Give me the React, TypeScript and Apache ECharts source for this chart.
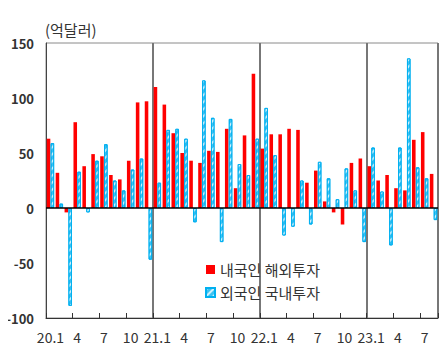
import React, { useEffect, useRef } from "react";
import * as echarts from "echarts";

const categories = [
  "20.1","20.2","20.3","20.4","20.5","20.6","20.7","20.8","20.9","20.10","20.11","20.12",
  "21.1","21.2","21.3","21.4","21.5","21.6","21.7","21.8","21.9","21.10","21.11","21.12",
  "22.1","22.2","22.3","22.4","22.5","22.6","22.7","22.8","22.9","22.10","22.11","22.12",
  "23.1","23.2","23.3","23.4","23.5","23.6","23.7","23.8",
];

const residentsAbroad = [
  63, 32, -4, 78, 38, 49, 47, 30, 26, 43, 96, 97,
  110, 94, 68, 50, 43, 41, 52, 51, 72, 18, 66, 122,
  54, 67, 67, 72, 71, 23, 34, 6, -4, -15, 41, 45,
  38, 25, 30, 18, 16, 62, 69, 31,
];

const foreignersDomestic = [
  59, 4, -89, 33, -4, 43, 58, 25, 16, 35, 45, -47,
  23, 71, 72, 63, -13, 116, 82, -31, 81, 40, 30, 63,
  91, 48, -25, -17, 25, -15, 42, 27, 8, 36, 16, -31,
  55, 15, -34, 55, 136, 37, 27, -11,
];

const seriesNames = ["내국인 해외투자", "외국인 국내투자"];
const unitLabel = "(억달러)";

const FONT = "'Noto Sans CJK KR', 'Noto Sans', sans-serif";

export default function App() {
  const ref = useRef<HTMLDivElement>(null);
  useEffect(() => {
    if (!ref.current) return;
    const chart = echarts.init(ref.current, undefined, { renderer: "svg" });
    chart.setOption({
      animation: false,
      textStyle: { fontFamily: FONT },
      grid: {
        left: 46,
        right: 9,
        top: 43,
        bottom: 44,
        show: true,
        borderColor: "#8a8a8a",
        borderWidth: 1,
      },
      graphic: [
        {
          type: "text",
          left: 45,
          top: 22,
          style: { text: unitLabel, fontSize: 15, fill: "#333", fontFamily: FONT },
        },
      ],
      legend: {
        orient: "vertical",
        left: 200,
        top: 257,
        itemWidth: 9,
        itemHeight: 9,
        itemGap: 8,
        textStyle: { fontSize: 15, color: "#333", fontFamily: FONT },
        data: [
          { name: seriesNames[0], icon: "rect" },
          { name: seriesNames[1], icon: "rect" },
        ],
      },
      xAxis: {
        type: "category",
        data: categories,
        boundaryGap: true,
        axisLine: { onZero: false, lineStyle: { color: "#333", width: 1 } },
        axisTick: {
          show: true,
          inside: true,
          length: 5,
          interval: (i: number) => i % 3 === 0,
          lineStyle: { color: "#333" },
        },
        axisLabel: {
          interval: (i: number) => i % 3 === 0,
          fontSize: 14,
          color: "#333",
          margin: 12,
          formatter: (v: string) => {
            const parts = v.split(".");
            return parts[1] === "1" ? v : parts[1];
          },
        },
        splitLine: {
          show: true,
          interval: (i: number) => i > 0 && i % 12 === 0,
          lineStyle: { color: "#777", width: 2 },
        },
      },
      yAxis: {
        type: "value",
        min: -100,
        max: 150,
        interval: 50,
        axisLine: { show: true, lineStyle: { color: "#444" } },
        axisTick: { show: false },
        splitLine: { show: false },
        axisLabel: { fontSize: 13, fontWeight: "bold", color: "#333", margin: 12 },
      },
      series: [
        {
          name: seriesNames[0],
          type: "bar",
          data: residentsAbroad,
          barWidth: "40%",
          barGap: "8%",
          itemStyle: { color: "#FF0000" },
          markLine: {
            silent: true,
            symbol: "none",
            label: { show: false },
            lineStyle: { color: "#000", width: 1.5, type: "solid" },
            data: [{ yAxis: 0 }],
          },
        },
        {
          name: seriesNames[1],
          type: "bar",
          data: foreignersDomestic,
          barWidth: "40%",
          itemStyle: {
            color: "#3CC3F2",
            borderColor: "#00B0F0",
            borderWidth: 1,
            decal: {
              symbol: "rect",
              color: "rgba(255,255,255,0.75)",
              dashArrayX: [1, 0],
              dashArrayY: [1.5, 2.5],
              rotation: -Math.PI / 4,
            },
          },
        },
      ],
    });
    return () => chart.dispose();
  }, []);
  return <div ref={ref} style={{ width: 447, height: 362, marginLeft: -8, marginTop: -8 }} />;
}
